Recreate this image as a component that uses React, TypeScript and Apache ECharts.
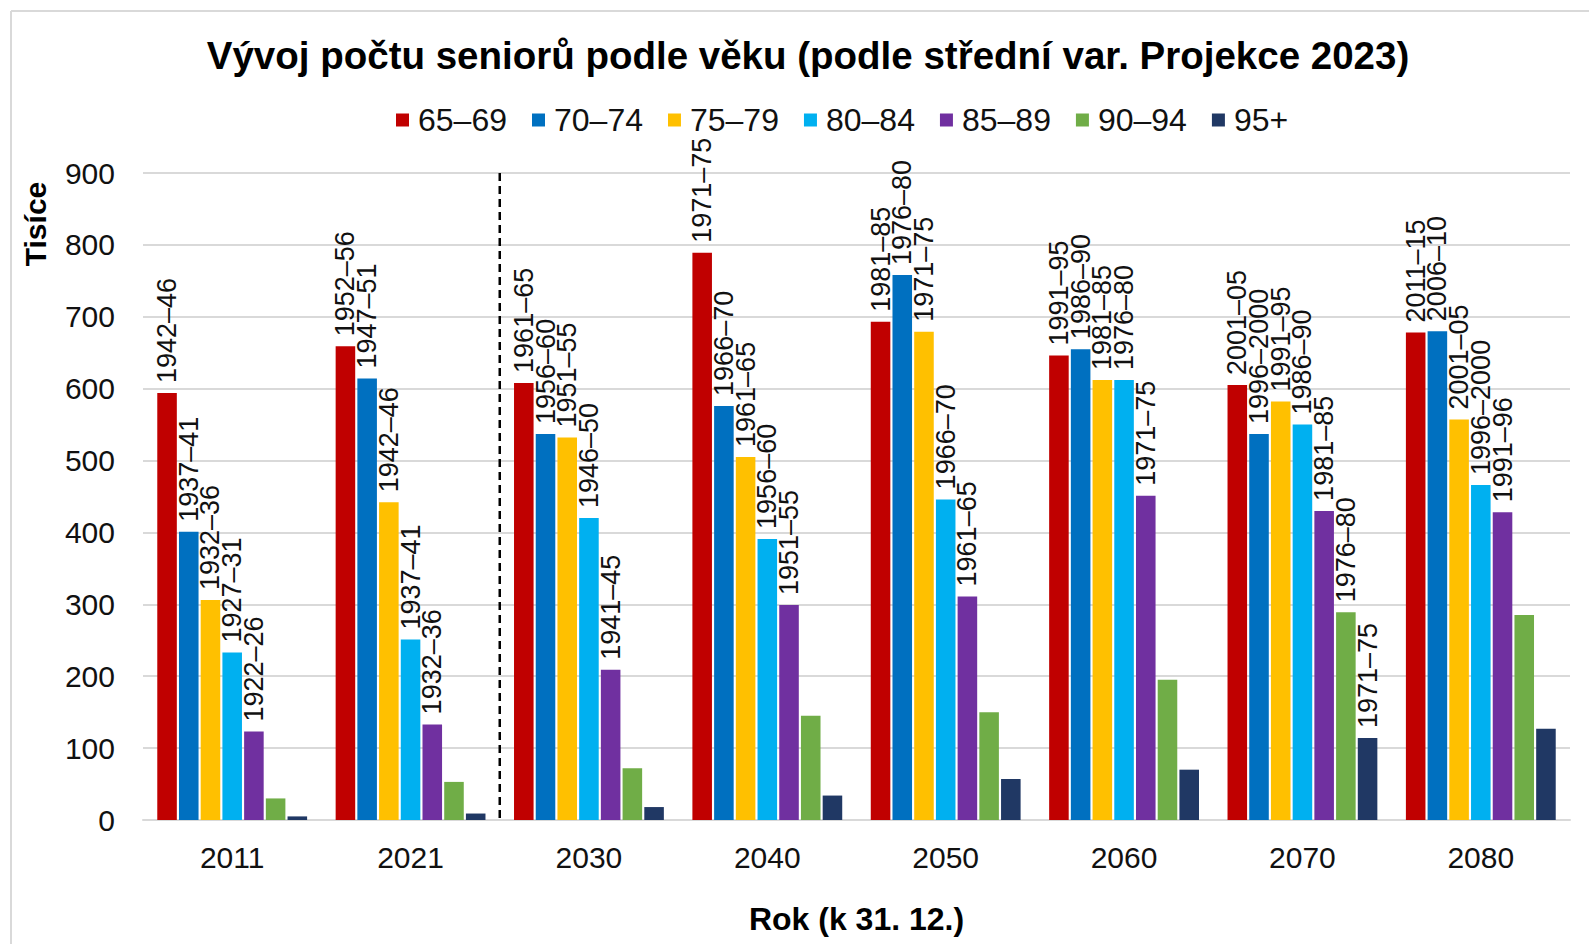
import React, { useEffect, useRef } from "react";
import * as echarts from "echarts";

const years = ["2011", "2021", "2030", "2040", "2050", "2060", "2070", "2080"];
const ageGroups = ["65–69", "70–74", "75–79", "80–84", "85–89", "90–94", "95+"];
const colors = ["#C00000", "#0070C0", "#FFC000", "#00B0F0", "#7030A0", "#70AD47", "#203864"];

const age65_69 = [594, 659, 608, 789, 693, 646, 605, 678];
const age70_74 = [401, 614, 537, 576, 758, 655, 537, 680];
const age75_79 = [306, 442, 532, 505, 679, 612, 582, 557];
const age80_84 = [233, 251, 420, 391, 446, 612, 550, 466];
const age85_89 = [123, 133, 209, 299, 311, 451, 430, 428];
const age90_94 = [30, 53, 72, 145, 150, 195, 289, 285];
const age95plus = [5, 9, 18, 34, 57, 70, 114, 127];

const cohort65_69 = ["1942–46", "1952–56", "1961–65", "1971–75", "1981–85", "1991–95", "2001–05", "2011–15"];
const cohort70_74 = ["1937–41", "1947–51", "1956–60", "1966–70", "1976–80", "1986–90", "1996–2000", "2006–10"];
const cohort75_79 = ["1932–36", "1942–46", "1951–55", "1961–65", "1971–75", "1981–85", "1991–95", "2001–05"];
const cohort80_84 = ["1927–31", "1937–41", "1946–50", "1956–60", "1966–70", "1976–80", "1986–90", "1996–2000"];
const cohort85_89 = ["1922–26", "1932–36", "1941–45", "1951–55", "1961–65", "1971–75", "1981–85", "1991–96"];
const cohort90_94 = ["", "", "", "", "", "", "1976–80", ""];
const cohort95plus = ["", "", "", "", "", "", "1971–75", ""];

const seriesValues = [age65_69, age70_74, age75_79, age80_84, age85_89, age90_94, age95plus];
const seriesCohorts = [cohort65_69, cohort70_74, cohort75_79, cohort80_84, cohort85_89, cohort90_94, cohort95plus];

const yTicks = [0, 100, 200, 300, 400, 500, 600, 700, 800, 900];

const FONT = "'Liberation Sans', Arial, Helvetica, sans-serif";

export default function App() {
  const ref = useRef<HTMLDivElement>(null);

  useEffect(() => {
    if (!ref.current) return;
    const chart = echarts.init(ref.current, null, { renderer: "svg" });
    const option: any = {
      animation: false,
      backgroundColor: "#ffffff",
      textStyle: { fontFamily: FONT },
      color: colors,
      legend: {
        data: ageGroups,
        left: 391,
        top: 99,
        icon: "rect",
        itemWidth: 13,
        itemHeight: 13,
        itemGap: 25,
        textStyle: { fontSize: 32, color: "#111", fontFamily: FONT, padding: [0, 0, 0, 4] },
      },
      grid: { left: 143, right: 19, top: 173, bottom: 124, containLabel: false },
      xAxis: {
        type: "category",
        data: years,
        axisTick: { show: false },
        axisLine: { show: true, lineStyle: { color: "#d9d9d9", width: 2 } },
        axisLabel: { fontSize: 30, color: "#111", margin: 22, fontFamily: FONT },
        name: "Rok (k 31. 12.)",
        nameLocation: "middle",
        nameGap: 83,
        nameTextStyle: { fontSize: 32, fontWeight: "bold", color: "#000", fontFamily: FONT },
      },
      yAxis: {
        type: "value",
        min: 0,
        max: yTicks[yTicks.length - 1],
        interval: 100,
        axisLine: { show: false },
        axisTick: { show: false },
        splitLine: { lineStyle: { color: "#d9d9d9", width: 2 } },
        axisLabel: { fontSize: 30, color: "#111", margin: 28, fontFamily: FONT },
      },
      series: ageGroups.map((name, i) => ({
        name,
        type: "bar",
        data: seriesValues[i],
        barGap: "11%",
        barCategoryGap: "16%",
        itemStyle: { color: colors[i] },
        label: {
          show: true,
          position: "top",
          rotate: 90,
          align: "left",
          verticalAlign: "middle",
          distance: 10,
          fontSize: 27,
          color: "#111",
          fontFamily: FONT,
          formatter: (p: any) => seriesCohorts[i][p.dataIndex],
        },
      })),
    };
    chart.setOption(option);

    const x1 = chart.convertToPixel({ xAxisIndex: 0 }, years[1]) as number;
    const x2 = chart.convertToPixel({ xAxisIndex: 0 }, years[2]) as number;
    const yTop = chart.convertToPixel({ yAxisIndex: 0 }, yTicks[yTicks.length - 1]) as number;
    const yBot = chart.convertToPixel({ yAxisIndex: 0 }, 0) as number;
    const xm = (x1 + x2) / 2;

    chart.setOption({
      graphic: [
        { type: "line", shape: { x1: 11, y1: 11, x2: 1589, y2: 11 }, style: { stroke: "#d9d9d9", lineWidth: 2 } },
        { type: "line", shape: { x1: 11, y1: 11, x2: 11, y2: 944 }, style: { stroke: "#d9d9d9", lineWidth: 2 } },
        {
          type: "text",
          x: 808,
          y: 55,
          style: {
            text: "Vývoj počtu seniorů podle věku (podle střední var. Projekce 2023)",
            font: `bold 38.5px ${FONT}`,
            fill: "#000",
            textAlign: "center",
            textVerticalAlign: "middle",
          },
        },
        {
          type: "text",
          x: 35,
          y: 224,
          rotation: Math.PI / 2,
          style: {
            text: "Tisíce",
            font: `bold 30px ${FONT}`,
            fill: "#000",
            textAlign: "center",
            textVerticalAlign: "middle",
          },
        },
        {
          type: "line",
          shape: { x1: xm, y1: yTop, x2: xm, y2: yBot },
          style: { stroke: "#000", lineWidth: 2.5, lineDash: [8, 5] },
          z: 10,
        },
      ],
    });

    return () => chart.dispose();
  }, []);

  return (
    <div
      ref={ref}
      style={{ position: "absolute", left: 0, top: 0, width: 1589, height: 944 }}
    />
  );
}
